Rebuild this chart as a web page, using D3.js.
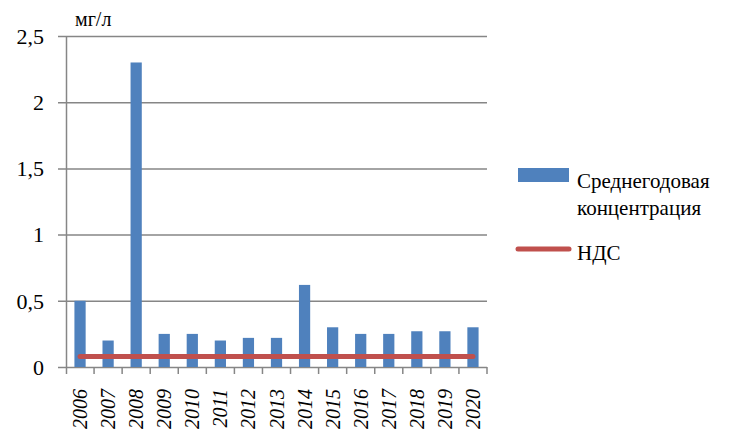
<!DOCTYPE html>
<html><head><meta charset="utf-8">
<script src="https://cdn.jsdelivr.net/npm/d3@7"></script>
<style>body{margin:0;background:#fff}svg{display:block}svg text{font-family:"Liberation Serif","DejaVu Serif",serif !important}</style>
</head><body><svg id="c" width="748" height="434"></svg>
<script>
const years = ["2006","2007","2008","2009","2010","2011","2012","2013","2014","2015","2016","2017","2018","2019","2020"];
const concentration = [0.5,0.2,2.3,0.25,0.25,0.2,0.22,0.22,0.62,0.3,0.25,0.25,0.27,0.27,0.3];
const ndsValues = [0.08,0.08,0.08,0.08,0.08,0.08,0.08,0.08,0.08,0.08,0.08,0.08,0.08,0.08,0.08];
const yTicks = [0,0.5,1,1.5,2,2.5];
const seriesNames = ["Среднегодовая концентрация","НДС"];
const unitLabel = "мг/л";
const FONT = "Liberation Serif";

const svg = d3.select("#c");
const L=66, R=487, T=36, B=367;
const x = d3.scaleBand().domain(years).range([L,R]).paddingInner(0.6).paddingOuter(0.3);
const xc = d3.scaleBand().domain(years).range([L,R]);
const y = d3.scaleLinear().domain([0,2.5]).range([B,T]);
const fmt = d => String(d).replace(".",",");

svg.append("g").selectAll("line").data(yTicks).join("line")
  .attr("x1",L-8).attr("x2",R).attr("y1",d=>y(d)+0.5).attr("y2",d=>y(d)+0.5)
  .attr("stroke","#868686").attr("stroke-width",1.5);
svg.append("g").selectAll("text").data(yTicks).join("text")
  .attr("x",44).attr("y",d=>y(d)).attr("dy","0.35em").attr("text-anchor","end")
  .style("font-family",FONT).attr("font-size",22).text(fmt);
svg.append("line").attr("x1",L+0.5).attr("x2",L+0.5).attr("y1",T).attr("y2",B+7).attr("stroke","#868686").attr("stroke-width",1.5);
svg.append("g").selectAll("line").data(years).join("line")
  .attr("x1",(d,i)=>L+(i+1)*xc.step()).attr("x2",(d,i)=>L+(i+1)*xc.step())
  .attr("y1",B).attr("y2",B+7).attr("stroke","#868686").attr("stroke-width",1.5);
svg.append("g").selectAll("rect").data(concentration).join("rect")
  .attr("x",(d,i)=>x(years[i])).attr("width",x.bandwidth())
  .attr("y",d=>y(d)).attr("height",d=>B-y(d)).attr("fill","#4f81bd");
svg.append("path").datum(ndsValues)
  .attr("d",d3.line().x((d,i)=>xc(years[i])+xc.bandwidth()/2).y(d=>y(d)))
  .attr("fill","none").attr("stroke","#c0504d").attr("stroke-width",5).attr("stroke-linecap","round");
svg.append("g").selectAll("text").data(years).join("text")
  .attr("transform",d=>`translate(${xc(d)+xc.bandwidth()/2+7},389) rotate(-90)`)
  .attr("text-anchor","end").attr("font-style","italic").attr("font-size",20).style("font-family",FONT).text(d=>d);
svg.append("text").attr("x",75).attr("y",26).attr("font-size",20).style("font-family",FONT).text(unitLabel);
svg.append("rect").attr("x",518).attr("y",168).attr("width",51).attr("height",14).attr("fill","#4f81bd");
const parts = seriesNames[0].split(" ");
svg.append("text").attr("x",577).attr("y",188).attr("font-size",21).style("font-family",FONT).text(parts[0]);
svg.append("text").attr("x",577).attr("y",215).attr("font-size",21).style("font-family",FONT).text(parts[1]);
svg.append("line").attr("x1",518).attr("x2",569).attr("y1",249).attr("y2",249).attr("stroke","#c0504d").attr("stroke-width",5).attr("stroke-linecap","round");
svg.append("text").attr("x",577).attr("y",260).attr("font-size",21).style("font-family",FONT).text(seriesNames[1]);
</script></body></html>
